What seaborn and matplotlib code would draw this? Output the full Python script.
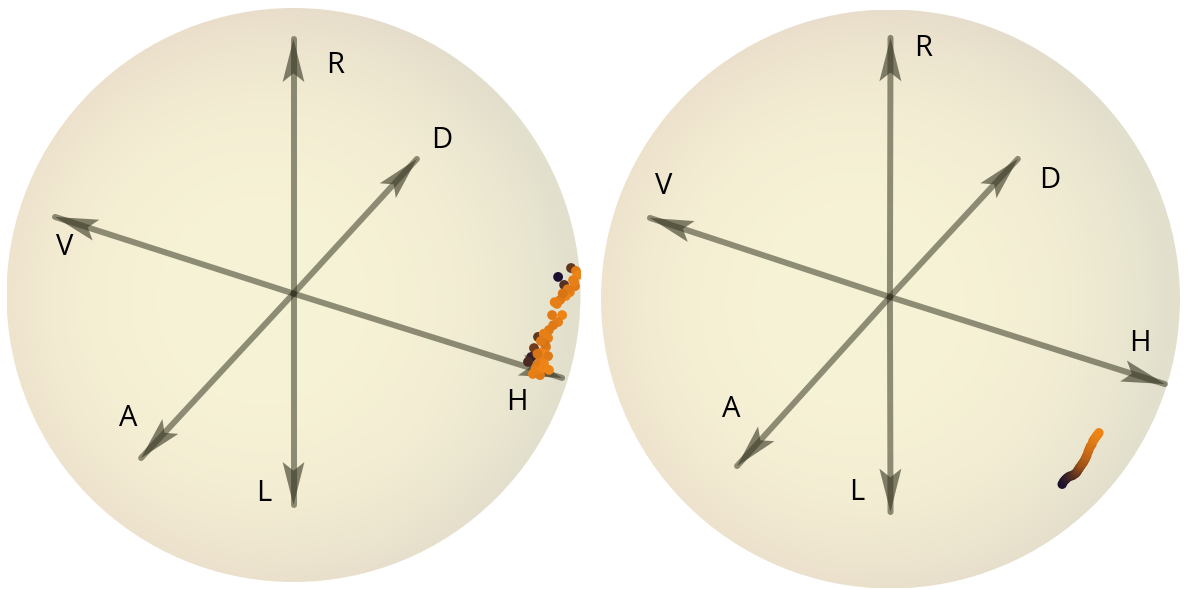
import numpy as np
import pandas as pd
import matplotlib
matplotlib.use("Agg")
import matplotlib.pyplot as plt
from matplotlib.patches import Circle, Polygon
from matplotlib.colors import LinearSegmentedColormap
import seaborn as sns

sns.set_style("white")
plt.rcParams["font.family"] = ["Open Sans", "DejaVu Sans"]

# Poles of the Poincaré sphere
pole_names = ["R", "L", "D", "A", "V", "H"]

# Projected pole tips for each view (units of sphere radius)
left_tip_x = [0.000, 0.000, 0.430, -0.531, -0.831, 0.936]
left_tip_y = [0.892, -0.732, 0.474, -0.568, 0.272, -0.289]
right_tip_x = [0.000, 0.000, 0.440, -0.530, -0.831, 0.948]
right_tip_y = [0.902, -0.736, 0.484, -0.577, 0.280, -0.294]

# Measured polarisation states, projected (x, y) with time index t (0 = start)
left_x = [0.922, 0.967, 0.984, 0.991, 0.974, 0.943, 0.981, 0.963, 0.949, 0.929,
          0.918, 0.901, 0.936, 0.922, 0.890, 0.887, 0.852, 0.880, 0.838, 0.866,
          0.887, 0.859, 0.828, 0.873, 0.845, 0.890, 0.834, 0.859, 0.817, 0.876,
          0.978, 0.955, 0.938, 0.910, 0.905, 0.872, 0.862, 0.850, 0.842, 0.868]
left_y = [0.063, 0.094, 0.084, 0.070, 0.052, 0.035, 0.031, 0.010, -0.003, -0.017,
          -0.031, -0.070, -0.070, -0.094, -0.122, -0.150, -0.146, -0.181, -0.185, -0.199,
          -0.213, -0.226, -0.216, -0.240, -0.247, -0.261, -0.275, -0.279, -0.233, -0.171,
          0.045, 0.020, 0.005, -0.025, -0.105, -0.135, -0.160, -0.205, -0.262, -0.255]
left_t = [0.00, 0.35, 0.90, 1.00, 0.95, 0.30, 0.90, 0.95, 1.00, 0.90,
          0.95, 0.90, 1.00, 0.95, 0.90, 0.95, 0.35, 0.90, 0.40, 1.00,
          0.90, 0.95, 0.15, 1.00, 0.90, 1.00, 0.95, 0.90, 0.25, 0.85,
          0.95, 0.90, 0.85, 0.95, 0.90, 0.95, 0.90, 0.85, 0.95, 1.00]

right_x = [0.593, 0.597, 0.602, 0.606, 0.609, 0.614, 0.619, 0.625, 0.630, 0.635,
           0.640, 0.644, 0.647, 0.651, 0.654, 0.658, 0.661, 0.665, 0.668, 0.672,
           0.675, 0.678, 0.682, 0.685, 0.689, 0.692, 0.696, 0.699, 0.703, 0.706,
           0.710, 0.713, 0.717, 0.720]
right_y = [-0.640, -0.632, -0.626, -0.622, -0.619, -0.615, -0.612, -0.611, -0.609, -0.605,
           -0.602, -0.597, -0.592, -0.586, -0.581, -0.576, -0.571, -0.566, -0.561, -0.554,
           -0.547, -0.541, -0.529, -0.522, -0.512, -0.507, -0.502, -0.491, -0.486, -0.481,
           -0.476, -0.471, -0.467, -0.462]
right_t = [0.00, 0.03, 0.05, 0.08, 0.10, 0.14, 0.18, 0.22, 0.25, 0.29,
           0.32, 0.36, 0.40, 0.44, 0.48, 0.52, 0.55, 0.58, 0.60, 0.63,
           0.65, 0.70, 0.73, 0.75, 0.80, 0.82, 0.84, 0.88, 0.90, 0.92,
           0.94, 0.96, 0.98, 1.00]

# Label anchors for each view (units of sphere radius)
left_lab_x = [0.145, -0.103, 0.517, -0.577, -0.796, 0.779]
left_lab_y = [0.801, -0.690, 0.540, -0.429, 0.167, -0.376]
right_lab_x = [0.112, -0.116, 0.551, -0.551, -0.782, 0.862]
right_lab_y = [0.864, -0.670, 0.408, -0.383, 0.387, -0.152]

time_cmap = LinearSegmentedColormap.from_list(
    "time", ["#1c1030", "#4a2a22", "#8a4818", "#c86a16", "#ee8416"])

ARROW_RGB = (0.22, 0.22, 0.14)
ARROW_ALPHA = 0.55


def sphere_image(n=700):
    yy, xx = np.mgrid[1:-1:n * 1j, -1:1:n * 1j]
    d = np.hypot(xx + 0.12, yy + 0.02)
    f = np.clip(d / 1.08, 0, 1) ** 3.0
    core = np.array([247, 243, 214]) / 255
    warm = np.array([231, 214, 198]) / 255
    cool = np.array([226, 225, 206]) / 255
    w = np.clip((xx + 1) / 2, 0, 1) ** 1.5
    edge = warm * (1 - w)[..., None] + cool * w[..., None]
    return core * (1 - f)[..., None] + edge * f[..., None]


def draw_sphere(ax, origin, tips_x, tips_y, labs_x, labs_y, px, py, pt, psize):
    ax.set_xlim(-1, 1)
    ax.set_ylim(-1, 1)
    ax.set_aspect("equal")
    ax.axis("off")
    disk = Circle((0, 0), 1.0, transform=ax.transData, facecolor="none",
                  edgecolor="none")
    ax.add_patch(disk)
    im = ax.imshow(sphere_image(), extent=[-1, 1, -1, 1], origin="upper",
                   interpolation="bilinear", zorder=0)
    im.set_clip_path(disk)

    ox, oy = origin
    for name, tx, ty, lx, ly in zip(pole_names, tips_x, tips_y, labs_x, labs_y):
        ax.plot([ox, tx], [oy, ty], color=ARROW_RGB, alpha=ARROW_ALPHA,
                lw=4.3, solid_capstyle="round", zorder=2)
        vx, vy = tx - ox, ty - oy
        L = np.hypot(vx, vy)
        ux, uy = vx / L, vy / L
        nx, ny = -uy, ux
        hl, hw, notch = 0.15, 0.038, 0.12
        head = Polygon([
            (tx, ty),
            (tx - hl * ux + hw * nx, ty - hl * uy + hw * ny),
            (tx - notch * ux, ty - notch * uy),
            (tx - hl * ux - hw * nx, ty - hl * uy - hw * ny),
        ], closed=True, facecolor=ARROW_RGB, edgecolor="none",
            alpha=0.62, zorder=3)
        ax.add_patch(head)
        ax.text(lx, ly, name, fontsize=21, ha="center", va="center",
                color="black", zorder=5)

    df = pd.DataFrame({"x": px, "y": py, "t": pt})
    sns.scatterplot(data=df, x="x", y="y", hue="t", palette=time_cmap,
                    hue_norm=(0, 1), s=psize, edgecolor="none", linewidth=0,
                    legend=False, ax=ax, zorder=4)
    ax.set_xlabel("")
    ax.set_ylabel("")


W, H = 1185, 590
fig = plt.figure(figsize=(W / 100, H / 100), dpi=100)

ax_l = fig.add_axes([6.5 / W, (H - 582) / H, 574 / W, 574 / H])
draw_sphere(ax_l, (0.0, 0.005), left_tip_x, left_tip_y, left_lab_x, left_lab_y,
            left_x, left_y, left_t, 50)

ax_r = fig.add_axes([601 / W, (H - 588.5) / H, 579 / W, 579 / H])
draw_sphere(ax_r, (-0.002, 0.007), right_tip_x, right_tip_y, right_lab_x, right_lab_y,
            right_x, right_y, right_t, 45)

fig.savefig("out.png", dpi=100, facecolor="white")
